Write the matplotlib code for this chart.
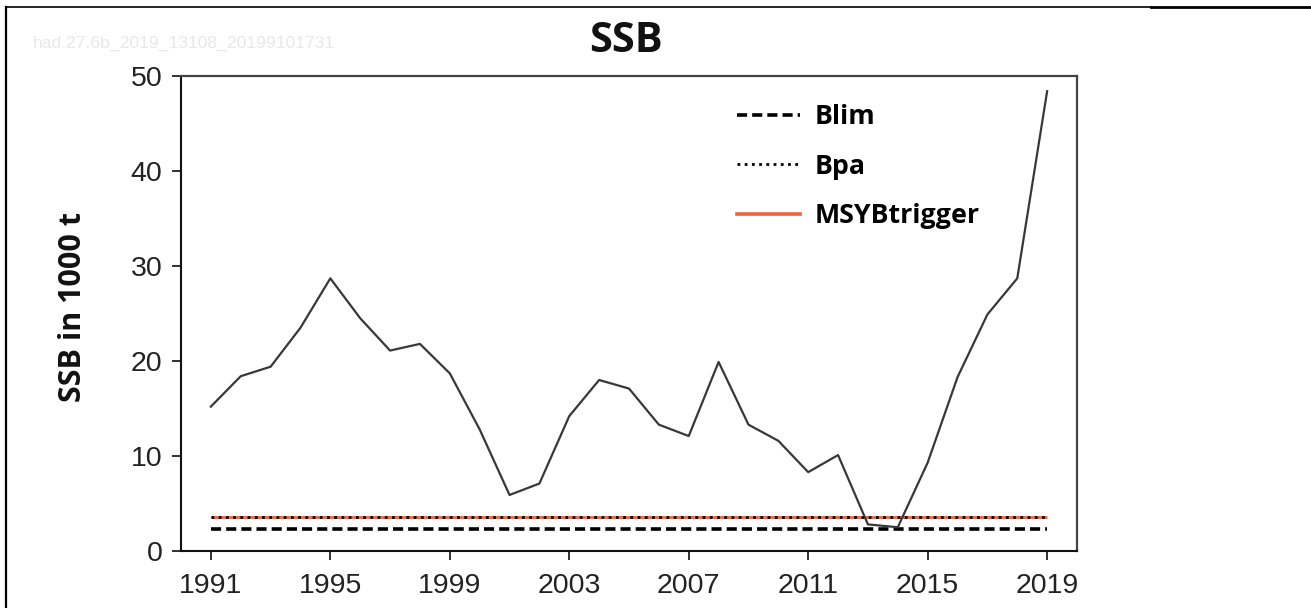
import matplotlib
matplotlib.use("Agg")
import matplotlib.pyplot as plt
from matplotlib.lines import Line2D

# ---- data ----
years = list(range(1991, 2020))
ssb = [15.2, 18.4, 19.4, 23.5, 28.7, 24.5, 21.1, 21.8, 18.7, 12.8,
       5.9, 7.1, 14.2, 18.0, 17.1, 13.3, 12.1, 19.9, 13.3, 11.6,
       8.3, 10.1, 2.8, 2.5, 9.3, 18.3, 24.9, 28.7, 48.4]
blim = 2.3
bpa = 3.6
msy_btrigger = 3.6
x_ticks = [1991, 1995, 1999, 2003, 2007, 2011, 2015, 2019]
y_ticks = [0, 10, 20, 30, 40, 50]
title = "SSB"
ylabel = "SSB in 1000 t"
legend_labels = ["Blim", "Bpa", "MSYBtrigger"]
watermark = "had.27.6b_2019_13108_20199101731"

W, H = 1311, 608
fig = plt.figure(figsize=(W / 100, H / 100), dpi=100)
fig.patch.set_facecolor("white")

ax = fig.add_axes([181 / W, 1 - 551 / H, (1077 - 181) / W, (551 - 76) / H])

line_col = "#383838"
orange = "#f26139"

ax.plot(years, ssb, color=line_col, lw=1.6, zorder=4)
ax.plot([years[0], years[-1]], [msy_btrigger] * 2, color=orange, lw=2.0,
        solid_capstyle="butt", zorder=2)
ax.plot([years[0], years[-1]], [bpa] * 2, color="black", lw=2.0,
        dashes=(1.0, 1.6), zorder=3)
ax.plot([years[0], years[-1]], [blim] * 2, color="black", lw=2.6,
        dashes=(2.8, 1.4), zorder=3)

ax.set_xlim(1990, 2020)
ax.set_ylim(0, 50)
ax.set_xticks(x_ticks)
ax.set_yticks(y_ticks)

tick_font = dict(family=["Liberation Sans", "DejaVu Sans"], size=20.5)
ax.set_xticklabels([str(t) for t in x_ticks], **tick_font, color="#222222")
ax.set_yticklabels([str(t) for t in y_ticks], **tick_font, color="#222222")
ax.tick_params(axis="both", direction="out", length=6.5, width=1.3,
               color="#222222")
ax.tick_params(axis="x", pad=9)
ax.tick_params(axis="y", pad=7)

for side in ["left", "bottom"]:
    ax.spines[side].set_color("#111111")
    ax.spines[side].set_linewidth(1.5)
for side in ["top", "right"]:
    ax.spines[side].set_color("#444444")
    ax.spines[side].set_linewidth(1.6)

bold_font = ["Open Sans", "DejaVu Sans"]

# legend
handles = [
    Line2D([], [], color="black", lw=2.6, dashes=(2.8, 1.4)),
    Line2D([], [], color="black", lw=2.0, dashes=(1.0, 1.6)),
    Line2D([], [], color=orange, lw=2.6),
]
leg = ax.legend(handles, legend_labels, loc="upper left",
                bbox_to_anchor=(737 / W, 1 - 104 / H),
                bbox_transform=fig.transFigure, frameon=False,
                prop=dict(family=bold_font, weight="bold", size=19.3),
                handlelength=2.35, handletextpad=0.55, labelspacing=0.88,
                borderpad=0, borderaxespad=0)

# title, ylabel, watermark
fig.text(626 / W, 1 - 42 / H, title, ha="center", va="center",
         family=bold_font, weight="bold", size=30, color="#111111")
fig.text(73 / W, 1 - 307 / H, ylabel, ha="center", va="center",
         rotation=90, family=bold_font, weight="bold", size=22,
         color="#111111")
fig.text(33 / W, 1 - 43 / H, watermark, ha="left", va="center",
         family=["Liberation Sans", "DejaVu Sans"], size=12.6,
         color="#e8e8e8")

# outer cell border
fig.add_artist(Line2D([6.5 / W, 6.5 / W], [0, 1 - 6.5 / H],
                      transform=fig.transFigure, color="black", lw=1.6))
fig.add_artist(Line2D([6.5 / W, 1151 / W], [1 - 6.5 / H, 1 - 6.5 / H],
                      transform=fig.transFigure, color="black", lw=1.2))
fig.add_artist(Line2D([1151 / W, 1], [1 - 7 / H, 1 - 7 / H],
                      transform=fig.transFigure, color="black", lw=2.0))

fig.savefig("out.png", dpi=100, facecolor="white")
